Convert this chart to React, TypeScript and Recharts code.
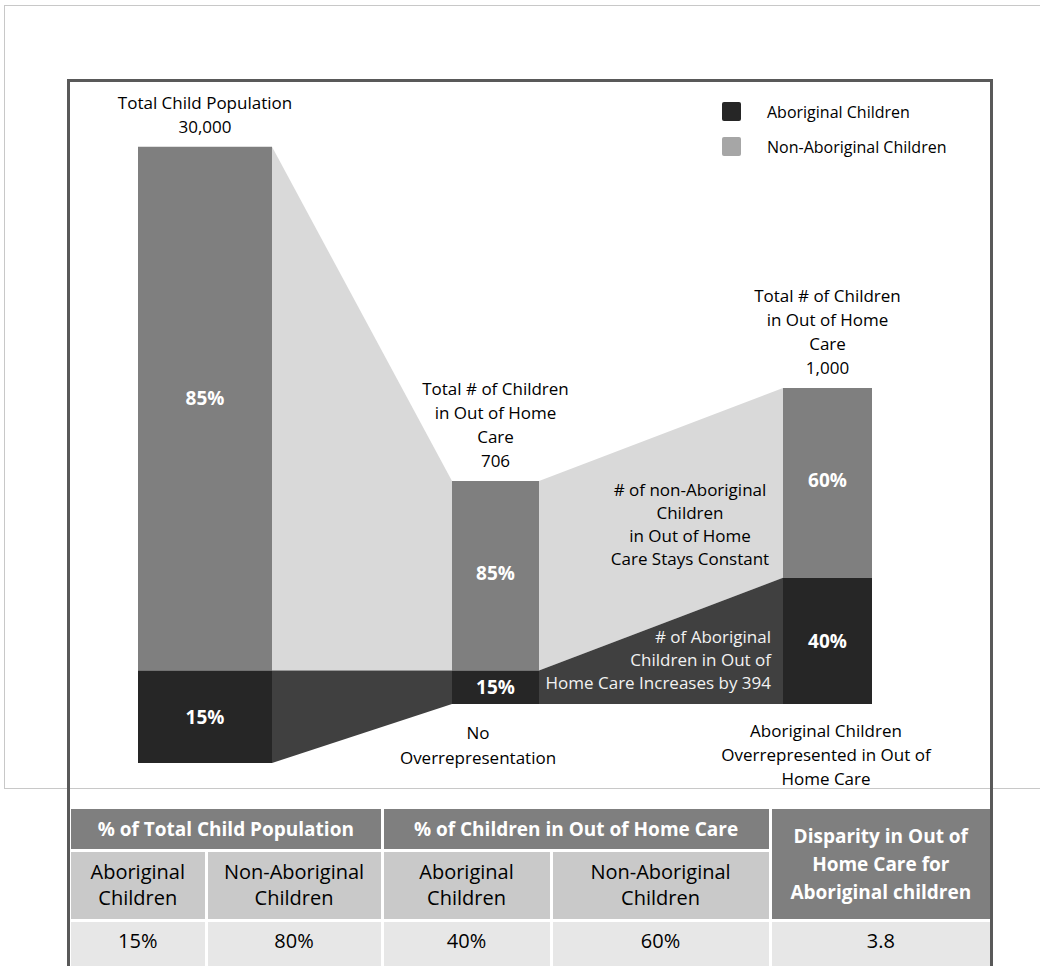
import { ComposedChart, Area, XAxis, YAxis, ReferenceDot } from "recharts";

const FONT = "'Open Sans', sans-serif";

// data
const stageTitles = [
  ["Total Child Population"],
  ["Total # of Children", "in Out of Home", "Care"],
  ["Total # of Children", "in Out of Home", "Care"],
];
const stageTotals = [30000, 706, 1000];
const aboriginalPct = [15, 15, 40];
const nonAboriginalPct = [85, 85, 60];
// the first bar cannot be drawn to scale, so it is drawn with this height
const bar1DrawnTotal = 1950;

const tableTotalPop = ["15%", "80%"];
const tableOutOfCare = ["40%", "60%"];
const disparity = "3.8";

// colours
const BAR_GREY = "#7f7f7f";
const BAR_DARK = "#262626";
const FLOW_LIGHT = "#d9d9d9";
const FLOW_DARK = "#404040";

// layout (x extents of the bars, in chart x units)
const barSpans = [
  [138, 272],
  [452, 539],
  [783, 872],
];

// derived values
const drawnTotals = [bar1DrawnTotal, stageTotals[1], stageTotals[2]];
const abCounts = drawnTotals.map((t, i) => (t * aboriginalPct[i]) / 100);
const splitLevel = abCounts[1];
const segs = [
  { ab: [splitLevel - abCounts[0], splitLevel], non: [splitLevel, splitLevel + (bar1DrawnTotal * nonAboriginalPct[0]) / 100] },
  { ab: [0, abCounts[1]], non: [abCounts[1], stageTotals[1]] },
  { ab: [0, abCounts[2]], non: [abCounts[2], stageTotals[2]] },
];

const polys = [
  {
    key: "flowLight1",
    fill: FLOW_LIGHT,
    data: [
      { x: barSpans[0][1], range: segs[0].non },
      { x: barSpans[1][0], range: segs[1].non },
    ],
  },
  {
    key: "flowDark1",
    fill: FLOW_DARK,
    data: [
      { x: barSpans[0][1], range: segs[0].ab },
      { x: barSpans[1][0], range: segs[1].ab },
    ],
  },
  {
    key: "flowLight2",
    fill: FLOW_LIGHT,
    data: [
      { x: barSpans[1][1], range: segs[1].non },
      { x: barSpans[2][0], range: segs[2].non },
    ],
  },
  {
    key: "flowDark2",
    fill: FLOW_DARK,
    data: [
      { x: barSpans[1][1], range: segs[1].ab },
      { x: barSpans[2][0], range: segs[2].ab },
    ],
  },
  ...segs.flatMap((s, i) => [
    {
      key: "barNon" + i,
      fill: BAR_GREY,
      data: [
        { x: barSpans[i][0], range: s.non },
        { x: barSpans[i][1], range: s.non },
      ],
    },
    {
      key: "barAb" + i,
      fill: BAR_DARK,
      data: [
        { x: barSpans[i][0], range: s.ab },
        { x: barSpans[i][1], range: s.ab },
      ],
    },
  ]),
];

const TextLines = ({ cx, cy, lines, fill = "#000", size = 17, weight = 400, anchor = "middle", lh = 24, dx = 0, dy = 0, baseline = "first" }) => {
  const first = baseline === "last" ? cy + dy - (lines.length - 1) * lh : cy + dy;
  return (
    <text x={cx + dx} y={first} textAnchor={anchor} fill={fill} fontSize={size} fontWeight={weight} fontFamily={FONT}>
      {lines.map((l, i) => (
        <tspan key={i} x={cx + dx} dy={i === 0 ? 0 : lh}>
          {l}
        </tspan>
      ))}
    </text>
  );
};

const center = (i) => (barSpans[i][0] + barSpans[i][1]) / 2;
const mid = (r) => (r[0] + r[1]) / 2;

const cell = {
  borderRight: "3px solid #fff",
  borderBottom: "3px solid #fff",
  textAlign: "center" as const,
  padding: 0,
};

export default function App() {
  return (
    <div style={{ position: "absolute", left: 0, top: 0, width: 1040, height: 966, overflow: "hidden", background: "#fff" }}>
      <div style={{ position: "absolute", left: 4, top: 5, width: 1100, height: 782, border: "1px solid #c8c8c8" }} />
      <div style={{ position: "absolute", left: 67, top: 79, width: 920, height: 1000, border: "3px solid #595959" }} />

      <div style={{ position: "absolute", left: 0, top: 0 }}>
        <ComposedChart width={1040} height={966} margin={{ top: 0, right: 0, bottom: 0, left: 0 }}>
          <XAxis type="number" dataKey="x" domain={[0, 1040]} hide allowDataOverflow />
          <YAxis type="number" domain={[-829, 2228]} hide allowDataOverflow />
          {polys.map((p) => (
            <Area
              key={p.key}
              data={p.data}
              dataKey="range"
              type="linear"
              fill={p.fill}
              fillOpacity={1}
              stroke="none"
              dot={false}
              activeDot={false}
              isAnimationActive={false}
            />
          ))}
          {segs.map((s, i) => (
            <ReferenceDot
              key={"t" + i}
              x={center(i)}
              y={s.non[1]}
              r={1}
              shape={(p) => (
                <TextLines cx={p.cx} cy={p.cy} dy={-14} baseline="last" lines={[...stageTitles[i], stageTotals[i].toLocaleString("en-US")]} />
              )}
            />
          ))}
          {segs.map((s, i) => (
            <ReferenceDot
              key={"pn" + i}
              x={center(i)}
              y={mid(s.non)}
              r={1}
              shape={(p) => <TextLines cx={p.cx} cy={p.cy} dy={i === 0 ? -4 : 4} size={19} weight={700} fill="#fff" lines={[nonAboriginalPct[i] + "%"]} />}
            />
          ))}
          {segs.map((s, i) => (
            <ReferenceDot
              key={"pa" + i}
              x={center(i)}
              y={mid(s.ab)}
              r={1}
              shape={(p) => <TextLines cx={p.cx} cy={p.cy} dy={7} size={19} weight={700} fill="#fff" lines={[aboriginalPct[i] + "%"]} />}
            />
          ))}
          <ReferenceDot
            x={690}
            y={segs[1].non[1]}
            r={1}
            shape={(p) => (
              <TextLines cx={p.cx} cy={p.cy} dy={15} lh={23} lines={["# of non-Aboriginal", "Children", "in Out of Home", "Care Stays Constant"]} />
            )}
          />
          <ReferenceDot
            x={771}
            y={0}
            r={1}
            shape={(p) => (
              <TextLines cx={p.cx} cy={p.cy} dy={-61} lh={23} anchor="end" fill="#f2f2f2" lines={["# of Aboriginal", "Children in Out of", "Home Care Increases by 394"]} />
            )}
          />
          <ReferenceDot
            x={478}
            y={0}
            r={1}
            shape={(p) => <TextLines cx={p.cx} cy={p.cy} dy={35} lh={25} lines={["No", "Overrepresentation"]} />}
          />
          <ReferenceDot
            x={826}
            y={0}
            r={1}
            shape={(p) => (
              <TextLines cx={p.cx} cy={p.cy} dy={33} lh={24} lines={["Aboriginal Children", "Overrepresented in Out of", "Home Care"]} />
            )}
          />
        </ComposedChart>
      </div>

      {[
        { label: "Aboriginal Children", color: BAR_DARK, top: 102 },
        { label: "Non-Aboriginal Children", color: "#a6a6a6", top: 137 },
      ].map((l) => (
        <div key={l.label} style={{ position: "absolute", left: 722, top: l.top, height: 19, display: "flex", alignItems: "center", fontFamily: FONT, fontSize: 16 }}>
          <div style={{ width: 19, height: 19, background: l.color, borderRadius: 2, marginRight: 26 }} />
          <span>{l.label}</span>
        </div>
      ))}

      <table
        style={{
          position: "absolute",
          left: 71,
          top: 809,
          width: 919,
          borderCollapse: "collapse",
          tableLayout: "fixed",
          fontFamily: FONT,
        }}
      >
        <colgroup>
          <col style={{ width: 135 }} />
          <col style={{ width: 176 }} />
          <col style={{ width: 169 }} />
          <col style={{ width: 219 }} />
          <col style={{ width: 220 }} />
        </colgroup>
        <tbody>
          <tr style={{ height: 41 }}>
            <th colSpan={2} style={{ ...cell, background: BAR_GREY, color: "#fff", fontSize: 19 }}>
              % of Total Child Population
            </th>
            <th colSpan={2} style={{ ...cell, background: BAR_GREY, color: "#fff", fontSize: 19 }}>
              % of Children in Out of Home Care
            </th>
            <th rowSpan={2} style={{ ...cell, borderRight: "none", background: BAR_GREY, color: "#fff", fontSize: 19, lineHeight: "28px" }}>
              Disparity in Out of
              <br />
              Home Care for
              <br />
              Aboriginal children
            </th>
          </tr>
          <tr style={{ height: 70 }}>
            {["Aboriginal", "Non-Aboriginal", "Aboriginal", "Non-Aboriginal"].map((t, i) => (
              <td key={i} style={{ ...cell, background: "#c9c9c9", fontSize: 20, lineHeight: "26px" }}>
                {t}
                <br />
                Children
              </td>
            ))}
          </tr>
          <tr style={{ height: 50 }}>
            {[...tableTotalPop, ...tableOutOfCare, disparity].map((t, i) => (
              <td key={i} style={{ ...cell, borderRight: i === 4 ? "none" : cell.borderRight, background: "#e7e7e7", fontSize: 20, verticalAlign: "top", paddingTop: 5 }}>
                {t}
              </td>
            ))}
          </tr>
        </tbody>
      </table>
    </div>
  );
}
